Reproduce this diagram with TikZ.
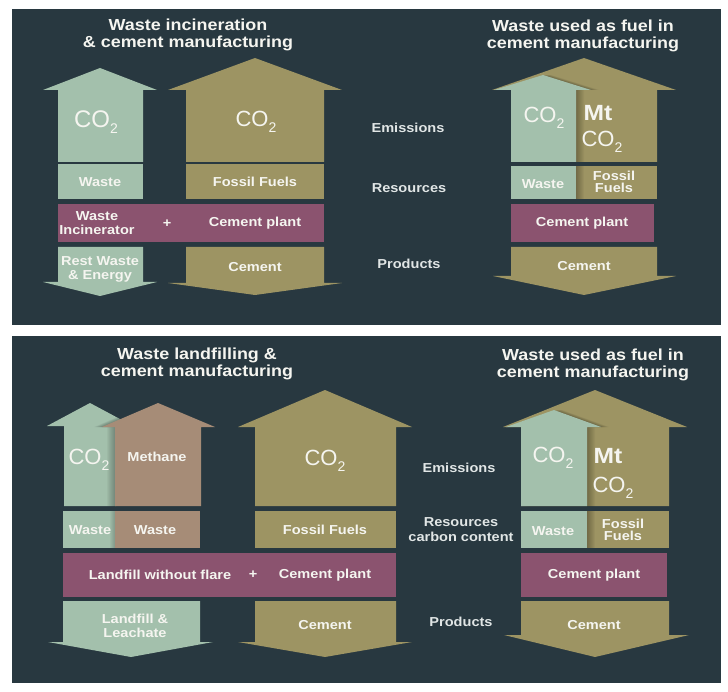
\documentclass[tikz,border=0pt]{standalone}
\usepackage{fontspec}
\setmainfont[FakeStretch=1.12]{Liberation Sans}
\newfontfamily\cofont{Liberation Sans}
\definecolor{bg}{RGB}{40,56,64}
\definecolor{wgreen}{RGB}{163,192,172}
\definecolor{olivefill}{RGB}{157,148,99}
\definecolor{plum}{RGB}{139,83,111}
\definecolor{brownfill}{RGB}{166,140,119}
\definecolor{txt}{RGB}{245,245,240}
\definecolor{labc}{RGB}{225,230,230}
\newcommand{\cotwo}{CO\raisebox{-6pt}{\fontsize{14}{14}\selectfont 2}}
\begin{document}
\begin{tikzpicture}[x=1pt,y=-1pt,
  big/.style={text=txt, font=\cofont\fontsize{22}{24}\selectfont, inner sep=0, align=left},
  bigb/.style={text=txt, font=\bfseries\fontsize{22}{24}\selectfont, inner sep=0},
  bt/.style={text=txt, font=\bfseries\fontsize{13}{14}\selectfont, align=center, inner sep=0},
  st/.style={text=txt, font=\bfseries\fontsize{13}{12}\selectfont, align=center, inner sep=0},
  ttl/.style={text=txt, font=\bfseries\fontsize{16}{17}\selectfont, align=center, inner sep=0},
  lab/.style={text=labc, font=\bfseries\fontsize{13}{15}\selectfont, align=center, inner sep=0},
  shad/.style={black, opacity=0.035}]
\fill[white] (0,0) rectangle (728,692);
\useasboundingbox (0,0) rectangle (728,692);
\fill[bg] (12,9) rectangle (721,325);
\fill[bg] (12,336) rectangle (721,683);

% ---------------- upper left
\fill[wgreen] (58,162) -- (58,90) -- (43,90) -- (100,68) -- (157,90) -- (143,90) -- (143,162) -- cycle;
\fill[wgreen] (58,164) rectangle (143,199);
\fill[olivefill] (186,162) -- (186,90) -- (168,90) -- (255,58) -- (342,90) -- (324,90) -- (324,162) -- cycle;
\fill[olivefill] (186,164) rectangle (324,199);
\fill[plum] (58,204) rectangle (324,242);
\fill[wgreen] (58,247) -- (143,247) -- (143,282) -- (157,282) -- (100,296) -- (43,282) -- (58,282) -- cycle;
\fill[olivefill] (186,247) -- (324,247) -- (324,283) -- (342,283) -- (255,295) -- (168,283) -- (186,283) -- cycle;

\node[ttl] (t1) at (188,35) {Waste incineration\\\& cement manufacturing};
\node[big, font=\cofont\fontsize{24}{26}\selectfont] (c1) at (96,122) {\cotwo};
\node[big] (c2) at (256,122) {\cotwo};
\node[bt] (w1) at (100,182) {Waste};
\node[bt] (f1) at (255,182) {Fossil Fuels};
\node[bt] (wi) at (97,223) {Waste\\Incinerator};
\node[bt] (p1) at (167,224) {+};
\node[bt] (cp1) at (255,223) {Cement plant};
\node[bt] (rw) at (100,269) {Rest Waste\\\& Energy};
\node[bt] (ce1) at (255,267) {Cement};

\node[lab] (e1) at (408,128) {Emissions};
\node[lab] (r1) at (409,188) {Resources};
\node[lab] (pr1) at (409,264) {Products};

% ---------------- upper right
\def\oliveA{(511,162) -- (511,90) -- (492,90) -- (584,58) -- (676,90) -- (657,90) -- (657,162) -- cycle}
\def\greenA{(511,162) -- (511,90) -- (494,90) -- (543,75) -- (591,90) -- (576,90) -- (576,162) -- cycle}
\fill[olivefill] \oliveA;
\begin{scope}
  \clip \oliveA;
  \foreach \s in {1,...,8} \fill[shad,xshift=\s pt] \greenA;
\end{scope}
\fill[wgreen] \greenA;
\fill[olivefill] (576,166) rectangle (657,199);
\begin{scope}
  \clip (576,166) rectangle (657,199);
  \foreach \s in {1,...,8} \fill[shad,xshift=\s pt] (511,166) rectangle (576,199);
\end{scope}
\fill[wgreen] (511,166) rectangle (576,199);
\fill[plum] (511,204) rectangle (654,242);
\fill[olivefill] (511,247) -- (657,247) -- (657,276) -- (676,276) -- (584,295) -- (493,276) -- (511,276) -- cycle;

\node[ttl] (t2) at (583,36) {Waste used as fuel in\\cement manufacturing};
\node[big] (c3) at (544,118) {\cotwo};
\node[bigb] (mt1) at (598,113) {Mt};
\node[big] (c4) at (602,142) {\cotwo};
\node[bt] (w2) at (543,184) {Waste};
\node[st] (f2) at (614,182) {Fossil\\Fuels};
\node[bt] (cp2) at (582,223) {Cement plant};
\node[bt] (ce2) at (584,266) {Cement};

% ---------------- lower left
\def\greenB{(64,506) -- (64,426) -- (47,426) -- (90,403) -- (133,426) -- (116,426) -- (116,506) -- cycle}
\def\methB{(115,506) -- (115,427) -- (102,427) -- (158,403) -- (215,427) -- (201,427) -- (201,506) -- cycle}
\fill[wgreen] \greenB;
\begin{scope}
  \clip \greenB;
  \foreach \s in {1,...,8} \fill[shad,xshift=-\s pt] \methB;
\end{scope}
\fill[brownfill] \methB;
\fill[wgreen] (63,511) rectangle (115,548);
\begin{scope}
  \clip (63,511) rectangle (115,548);
  \foreach \s in {1,...,5} \fill[shad,xshift=-\s pt] (115,511) rectangle (200,548);
\end{scope}
\fill[brownfill] (115,511) rectangle (200,548);
\fill[olivefill] (255,506) -- (255,427) -- (238,427) -- (325,390) -- (412,427) -- (396,427) -- (396,506) -- cycle;
\fill[olivefill] (255,511) rectangle (396,548);
\fill[plum] (63,553) rectangle (396,597);
\fill[wgreen] (63,601) -- (200,601) -- (200,642) -- (213,642) -- (131,657) -- (48,642) -- (63,642) -- cycle;
\fill[olivefill] (255,601) -- (396,601) -- (396,642) -- (412,642) -- (325,657) -- (238,642) -- (255,642) -- cycle;

\node[ttl] (t3) at (197,364) {Waste landfilling \&\\cement manufacturing};
\node[big] (c5) at (89,460) {\cotwo};
\node[bt] (me) at (157,457) {Methane};
\node[big] (c6) at (325,461) {\cotwo};
\node[bt] (w3) at (90,530) {Waste};
\node[bt] (w4) at (155,530) {Waste};
\node[bt] (f3) at (325,530) {Fossil Fuels};
\node[bt] (lf) at (160,575) {Landfill without flare};
\node[bt] (p2) at (253,575) {+};
\node[bt] (cp3) at (325,575) {Cement plant};
\node[bt] (ll) at (135,626) {Landfill \&\\Leachate};
\node[bt] (ce3) at (325,625) {Cement};

\node[lab] (e2) at (459,468) {Emissions};
\node[lab] (r2) at (461,530) {Resources\\carbon content};
\node[lab] (pr2) at (461,622) {Products};

% ---------------- lower right
\def\oliveC{(521,506) -- (521,427) -- (503,427) -- (595,390) -- (687,427) -- (669,427) -- (669,506) -- cycle}
\def\greenC{(521,506) -- (521,427) -- (506,427) -- (554,410) -- (601,427) -- (587,427) -- (587,506) -- cycle}
\fill[olivefill] \oliveC;
\begin{scope}
  \clip \oliveC;
  \foreach \s in {1,...,8} \fill[shad,xshift=\s pt] \greenC;
\end{scope}
\fill[wgreen] \greenC;
\fill[olivefill] (587,511) rectangle (669,548);
\begin{scope}
  \clip (587,511) rectangle (669,548);
  \foreach \s in {1,...,8} \fill[shad,xshift=\s pt] (521,511) rectangle (587,548);
\end{scope}
\fill[wgreen] (521,511) rectangle (587,548);
\fill[plum] (521,553) rectangle (667,597);
\fill[olivefill] (521,601) -- (669,601) -- (669,635) -- (689,635) -- (595,657) -- (504,635) -- (521,635) -- cycle;

\node[ttl] (t4) at (593,365) {Waste used as fuel in\\cement manufacturing};
\node[big] (c7) at (553,458) {\cotwo};
\node[bigb] (mt2) at (608,456) {Mt};
\node[big] (c8) at (613,488) {\cotwo};
\node[bt] (w5) at (553,531) {Waste};
\node[st] (f4) at (623,530) {Fossil\\Fuels};
\node[bt] (cp4) at (594,575) {Cement plant};
\node[bt] (ce4) at (594,625) {Cement};
\end{tikzpicture}
\end{document}
